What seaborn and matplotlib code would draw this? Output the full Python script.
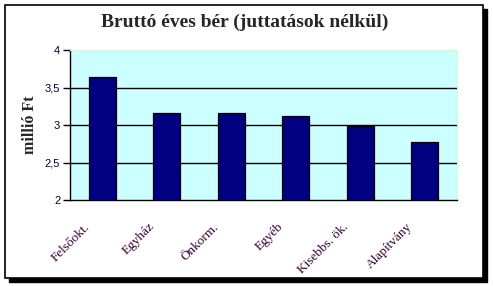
import matplotlib
matplotlib.use("Agg")
import matplotlib.pyplot as plt
import matplotlib.transforms as mtransforms
import seaborn as sns
import pandas as pd
from matplotlib.patches import Rectangle

categories = ["Felsőokt.", "Egyház", "Önkorm.", "Egyéb", "Kisebbs. ök.", "Alapítvány"]
values = [3.64, 3.155, 3.155, 3.115, 2.99, 2.77]
yticks = [2, 2.5, 3, 3.5, 4]
ytick_labels = ["2", "2,5", "3", "3,5", "4"]
title = "Bruttó éves bér (juttatások nélkül)"
ylabel = "millió Ft"

df = pd.DataFrame({"cat": categories, "val": values})

sns.set_style("white")
fig = plt.figure(figsize=(4.93, 2.86), dpi=100)
fig.patch.set_facecolor("white")

# outer frame with shadow
shadow = Rectangle((9/493, 1-282/286), 478/493, 273/286, transform=fig.transFigure,
                   facecolor="black", edgecolor="black", zorder=0)
frame = Rectangle((5/493, 1-278/286), 478/493, 273/286, transform=fig.transFigure,
                  facecolor="white", edgecolor="black", linewidth=1.2, zorder=1)
fig.patches.extend([shadow, frame])

ax = fig.add_axes([70/493, 1-200/286, 387/493, 150/286])
ax.set_facecolor("#CCFFFF")
ax.set_zorder(2)

sns.barplot(data=df, x="cat", y="val", ax=ax, color="#000080", width=0.42,
            edgecolor="black", linewidth=0.9, saturation=1, zorder=3)

ax.set_ylim(2, 4)
ax.set_xlim(-0.5, len(categories) - 0.5)
ax.set_yticks(yticks)
ax.set_yticklabels(ytick_labels, fontsize=8, family="Liberation Sans", color="#000033")
for y in yticks[1:-1]:
    ax.axhline(y, color="black", linewidth=1.0, zorder=2)

ax.set_xticks([i - 0.5 for i in range(len(categories) + 1)])
ax.set_xticklabels([])
ax.set_xticks(range(len(categories)), minor=True)
ax.set_xticklabels(categories, minor=True, rotation=45, ha="right", va="center",
                   rotation_mode="anchor", fontsize=9.5, family="Liberation Serif",
                   color="#330033")
ax.tick_params(axis="x", which="minor", length=0, pad=0)
ax.tick_params(axis="x", which="major", length=4, width=1, direction="out", color="black")
ax.tick_params(axis="y", length=5, width=1, direction="out", color="black", pad=2, left=True)

offset = mtransforms.ScaledTranslation(-14/100, -25/100, fig.dpi_scale_trans)
for lbl in ax.get_xticklabels(minor=True):
    lbl.set_transform(lbl.get_transform() + offset)

ax.spines["left"].set_color("black")
ax.spines["bottom"].set_color("black")
ax.spines["left"].set_linewidth(1)
ax.spines["bottom"].set_linewidth(1)
ax.spines["top"].set_color("#CCFFCC")
ax.spines["right"].set_color("#CCFFCC")

ax.set_xlabel("")
ax.set_ylabel(ylabel, fontsize=11.5, family="Liberation Serif", fontweight="bold", labelpad=5)

fig.text(245/493, 1-22/286, title, ha="center", va="center", fontsize=14,
         family="Liberation Serif", fontweight="bold", zorder=5)

fig.savefig("out.png", dpi=100, facecolor="white")
